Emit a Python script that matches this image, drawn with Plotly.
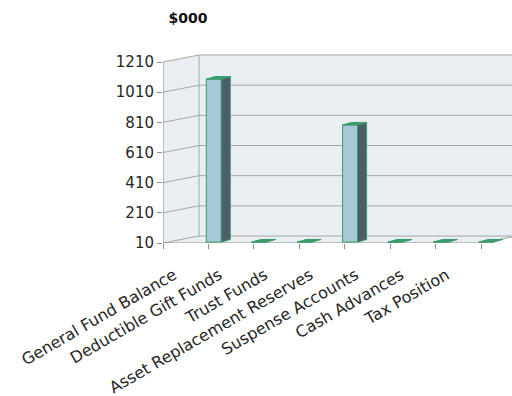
import plotly.graph_objects as go

# ---- data ($000) ----
categories = [
    "General Fund Balance",
    "Deductible Gift Funds",
    "Trust Funds",
    "Asset Replacement Reserves",
    "Suspense Accounts",
    "Cash Advances",
    "Tax Position",
]
balances = [1090, 0, 0, 786, 0, 0, 0]
y_ticks = [10, 210, 410, 610, 810, 1010, 1210]

# ---- geometry of the pseudo-3D box ----
W, H = 512, 396
M_L, M_R, M_T, M_B = 163, 0, 40, 153
PX_PER_UNIT = 181 / 1200          # vertical pixels per $000
PX_PER_CAT = 45.43                # horizontal pixels per category
Y_MIN = y_ticks[0]
Y_MAX_AX = y_ticks[-1]
X_RANGE = [0, (W - M_L - M_R) / PX_PER_CAT]
Y_RANGE = [Y_MIN, Y_MIN + (H - M_T - M_B) / PX_PER_UNIT]

DX = 36 / PX_PER_CAT              # depth offset of the back wall
DY = 7 / PX_PER_UNIT
BAR_X0 = 43.3 / PX_PER_CAT        # front face left edge inside a category
BAR_W = 15 / PX_PER_CAT
SIDE_DX = 9 / PX_PER_CAT
SIDE_DY = 2.5 / PX_PER_UNIT
LIFT = 1 / PX_PER_UNIT
LABEL_POS = 0.24                  # where each category label ends along the axis

WALL = "#E8EEF2"
GRID = "#A6A6A6"
AXIS = "#8C8C8C"
FACE = "#A8C9D7"
SIDE = "#4D5E68"
EDGE = "#3A9B6B"
TOP = "#3E9C6D"
TEXT = "#262626"
FONT = "DejaVu Sans"

n = len(categories)
x_far = X_RANGE[1] + 2


def poly(pts):
    return "M " + " L ".join(f"{x},{y}" for x, y in pts) + " Z"


shapes = []
# side wall, back wall and floor
shapes.append(dict(type="path", layer="below", line=dict(width=0), fillcolor=WALL,
                   path=poly([(0, Y_MIN), (DX, Y_MIN + DY), (DX, Y_MAX_AX + DY), (0, Y_MAX_AX)])))
shapes.append(dict(type="rect", layer="below", line=dict(width=0), fillcolor=WALL,
                   x0=DX, x1=x_far, y0=Y_MIN + DY, y1=Y_MAX_AX + DY))
shapes.append(dict(type="path", layer="below", line=dict(width=0), fillcolor=WALL,
                   path=poly([(0, Y_MIN), (n, Y_MIN), (n + DX, Y_MIN + DY), (DX, Y_MIN + DY)])))
# gridlines: diagonal on the side wall, horizontal on the back wall
for v in y_ticks:
    shapes.append(dict(type="line", layer="below", line=dict(color=GRID, width=1),
                       x0=0, y0=v, x1=DX, y1=v + DY))
    shapes.append(dict(type="line", layer="below", line=dict(color=GRID, width=1),
                       x0=DX, y0=v + DY, x1=x_far, y1=v + DY))
# corner edge of the back wall
shapes.append(dict(type="line", layer="below", line=dict(color=GRID, width=1),
                   x0=DX, y0=Y_MIN + DY, x1=DX, y1=Y_MAX_AX + DY))
# value axis and category axis lines
shapes.append(dict(type="line", layer="below", line=dict(color=AXIS, width=1),
                   x0=0, y0=Y_MIN, x1=0, y1=Y_MAX_AX))
shapes.append(dict(type="line", layer="below", line=dict(color=AXIS, width=1),
                   x0=0, y0=Y_MIN, x1=n, y1=Y_MIN))
shapes.append(dict(type="line", layer="below", line=dict(color=GRID, width=1),
                   x0=n, y0=Y_MIN, x1=n + DX, y1=Y_MIN + DY))

fig = go.Figure()

base = Y_MIN + LIFT
heights = [max(v - Y_MIN, 0) for v in balances]
centers = [i + BAR_X0 + BAR_W / 2 for i in range(n)]

# front faces of the columns
fig.add_trace(go.Bar(
    x=centers, y=heights, base=[base] * n, width=[BAR_W] * n,
    marker=dict(color=FACE, line=dict(color=EDGE, width=1)),
    hoverinfo="skip", showlegend=False,
))

# side and top faces of each column
for i, h in enumerate(heights):
    left = i + BAR_X0
    right = left + BAR_W
    top = base + h
    side_x = [right, right + SIDE_DX, right + SIDE_DX, right, right]
    side_y = [base, base + SIDE_DY, top + SIDE_DY, top, base]
    top_x = [left, right, right + SIDE_DX, left + SIDE_DX, left]
    top_y = [top, top, top + SIDE_DY, top + SIDE_DY, top]
    if h > 0:
        fig.add_trace(go.Scatter(x=side_x, y=side_y, mode="lines", fill="toself",
                                 fillcolor=SIDE, line=dict(color=EDGE, width=1),
                                 hoverinfo="skip", showlegend=False))
    fig.add_trace(go.Scatter(x=top_x, y=top_y, mode="lines", fill="toself",
                             fillcolor=TOP, line=dict(color=EDGE, width=1),
                             hoverinfo="skip", showlegend=False))

fig.update_layout(
    width=W, height=H,
    margin=dict(l=M_L, r=M_R, t=M_T, b=M_B, pad=0),
    paper_bgcolor="white", plot_bgcolor="white",
    shapes=shapes,
    title=dict(text="<b>$000</b>", x=188 / W, xanchor="center", xref="container",
               y=1 - 18 / H, yanchor="middle", yref="container",
               font=dict(family=FONT, size=14, color="#111111")),
    xaxis=dict(
        range=X_RANGE, showgrid=False, zeroline=False, showline=False,
        tickmode="array", tickvals=[i + LABEL_POS for i in range(n)], ticktext=categories,
        tickangle=-30, ticks="", ticklen=0, ticklabelstandoff=19,
        tickfont=dict(family=FONT, size=16, color=TEXT),
        minor=dict(tickmode="array", tickvals=list(range(n + 1)), ticks="outside",
                   ticklen=5, tickcolor=AXIS, tickwidth=1, showgrid=False),
        fixedrange=True,
    ),
    yaxis=dict(
        range=Y_RANGE, showgrid=False, zeroline=False, showline=False,
        tickmode="array", tickvals=y_ticks, ticks="outside", ticklen=5,
        tickcolor=AXIS, tickfont=dict(family=FONT, size=15, color=TEXT),
        fixedrange=True,
    ),
)

fig.write_html("out.html")
